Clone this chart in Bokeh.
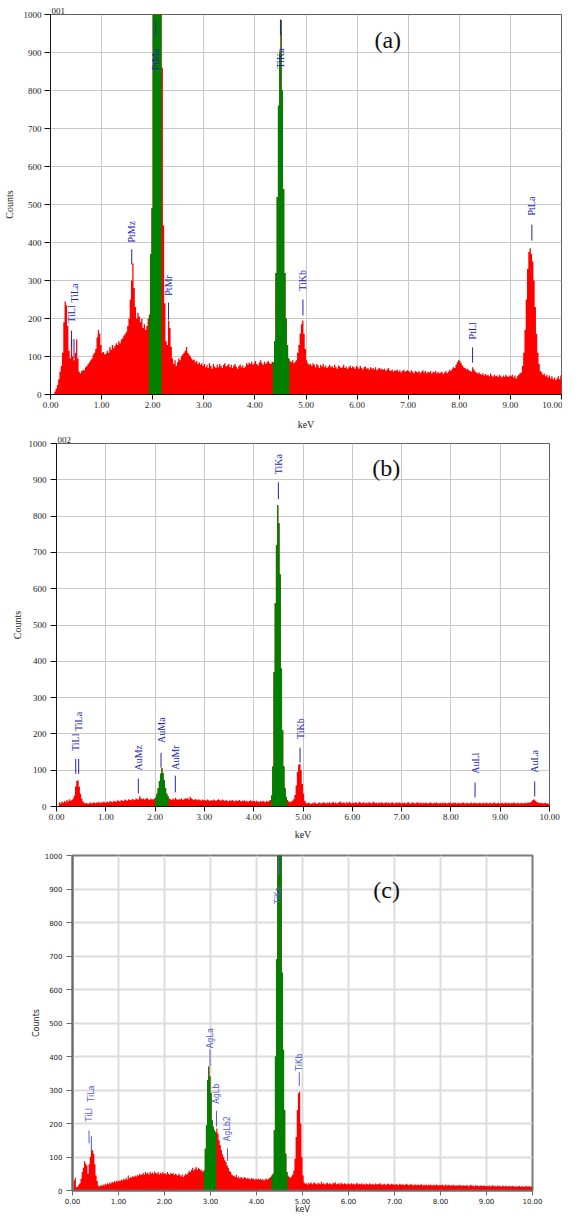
import numpy as np
from bokeh.plotting import figure
from bokeh.models import Label, FixedTicker, PrintfTickFormatter, Range1d
from bokeh.layouts import column
from bokeh.embed import file_html
from bokeh.resources import INLINE
from bokeh.core.properties import value

STEP = 0.025  # keV per channel

# ---------------- panel (a) ----------------
counts_a = [
    0, 0, 0, 8, 15, 25, 40, 60, 75, 110, 190, 245, 235, 180, 115, 95, 145, 100, 90, 110,
    145, 95, 60, 55, 62, 65, 63, 72, 75, 80, 85, 90, 95, 105, 110, 120, 150, 170, 160, 130,
    110, 112, 105, 108, 115, 110, 125, 118, 130, 122, 128, 135, 130, 140, 135, 145, 148, 155, 160, 165,
    180, 200, 250, 300, 345, 280, 230, 200, 215, 205, 190, 200, 175, 185, 170, 180, 200, 210, 370, 490,
    1200, 1200, 1200, 1200, 1200, 1200, 1200, 860, 445, 240, 140, 130, 195, 175, 125, 95, 80, 90, 75, 85,
    95, 90, 100, 105, 110, 115, 125, 110, 105, 100, 95, 90, 92, 85, 88, 80, 85, 78, 82, 75,
    80, 72, 78, 70, 82, 75, 68, 80, 74, 70, 78, 72, 80, 75, 70, 78, 82, 74, 76, 80,
    72, 78, 70, 76, 80, 73, 68, 75, 79, 72, 76, 70, 74, 82, 78, 84, 80, 86, 78, 82,
    88, 80, 76, 84, 90, 82, 78, 86, 80, 85, 88, 82, 80, 86, 85, 140, 320, 520, 760, 900,
    985, 800, 540, 320, 200, 130, 95, 88, 85, 90, 82, 86, 90, 110, 130, 160, 185, 195, 160, 120,
    90, 82, 78, 80, 75, 82, 78, 72, 80, 76, 70, 78, 74, 80, 72, 76, 70, 74, 78, 72,
    75, 70, 78, 72, 68, 76, 74, 70, 72, 78, 70, 74, 68, 72, 76, 70, 74, 72, 68, 75,
    72, 68, 75, 70, 66, 72, 74, 68, 70, 65, 72, 68, 70, 66, 72, 64, 68, 70, 66, 68,
    65, 68, 62, 66, 70, 64, 62, 66, 60, 64, 62, 66, 60, 64, 58, 62, 65, 60, 62, 64,
    62, 58, 64, 60, 56, 62, 60, 58, 62, 56, 60, 64, 58, 62, 56, 60, 58, 62, 55, 60,
    58, 62, 56, 60, 55, 58, 60, 54, 58, 62, 56, 60, 65, 62, 68, 72, 70, 78, 85, 90,
    88, 82, 76, 72, 70, 66, 68, 64, 62, 60, 72, 66, 60, 58, 55, 58, 54, 52, 56, 50,
    54, 50, 52, 48, 55, 50, 47, 52, 48, 50, 46, 52, 48, 45, 50, 47, 52, 48, 46, 50,
    48, 52, 45, 50, 42, 48, 52, 55, 58, 75, 110, 170, 250, 330, 375, 385, 370, 350, 300, 230,
    160, 110, 80, 62, 58, 52, 55, 48, 52, 45, 50, 42, 48, 40, 45, 38, 42, 48, 40, 50,
]
roi_a = [(1.925, 2.175), (4.35, 4.675)]
lines_a_name = ["TiLl", "TiLa", "PtMz", "PtMa", "PtMr", "TiKa", "TiKb", "PtLl", "PtLa"]
lines_a_kev = [0.41, 0.46, 1.59, 2.06, 2.31, 4.50, 4.94, 8.26, 9.42]
lines_a_lo = [125, 94, 342, 945, 197, 945, 208, 84, 405]
lines_a_hi = [168, 146, 382, 984, 242, 987, 250, 124, 447]
lines_a_text = [189, 242, 400, 853, 260, 858, 273, 145, 471]

# ---------------- panel (b) ----------------
counts_b = [
    0, 0, 12, 8, 14, 10, 15, 12, 18, 14, 20, 16, 18, 22, 30, 55, 70, 72, 55, 35,
    22, 14, 10, 8, 10, 7, 9, 11, 8, 10, 12, 9, 11, 10, 13, 9, 12, 11, 14, 10,
    12, 14, 11, 15, 13, 12, 16, 14, 13, 17, 15, 14, 18, 16, 15, 19, 17, 16, 20, 18,
    17, 21, 19, 18, 22, 20, 19, 28, 23, 20, 22, 19, 21, 24, 20, 18, 22, 19, 20, 22,
    25, 35, 50, 70, 90, 106, 92, 72, 50, 35, 28, 22, 20, 18, 22, 19, 24, 20, 18, 21,
    19, 22, 18, 20, 23, 21, 24, 19, 27, 22, 20, 18, 21, 19, 17, 20, 18, 16, 19, 17,
    18, 16, 19, 17, 15, 18, 16, 19, 17, 15, 18, 20, 17, 16, 19, 17, 15, 18, 16, 14,
    17, 15, 18, 16, 14, 17, 15, 16, 18, 14, 16, 15, 17, 14, 16, 13, 15, 17, 14, 16,
    15, 13, 16, 14, 12, 15, 13, 16, 14, 12, 15, 13, 16, 18, 30, 110, 370, 560, 720, 830,
    780, 640, 380, 210, 110, 50, 26, 18, 14, 12, 14, 16, 20, 32, 58, 95, 115, 117, 100, 62,
    35, 16, 10, 8, 11, 9, 7, 10, 8, 12, 9, 7, 10, 11, 8, 9, 12, 10, 8, 11,
    9, 12, 8, 10, 13, 9, 11, 8, 10, 12, 14, 9, 11, 10, 8, 12, 9, 13, 10, 8,
    11, 9, 12, 10, 8, 13, 11, 9, 10, 12, 8, 11, 9, 12, 10, 8, 11, 13, 9, 10,
    8, 11, 9, 12, 10, 8, 10, 12, 9, 11, 8, 10, 12, 9, 8, 11, 10, 9, 12, 8,
    10, 9, 11, 8, 10, 12, 9, 8, 11, 10, 9, 8, 12, 10, 9, 11, 8, 10, 9, 11,
    9, 8, 10, 11, 9, 8, 10, 9, 12, 8, 9, 10, 8, 11, 9, 10, 8, 9, 11, 10,
    8, 10, 9, 11, 8, 9, 10, 8, 9, 11, 10, 8, 9, 10, 8, 9, 11, 8, 10, 9,
    10, 8, 9, 11, 8, 9, 10, 8, 11, 9, 8, 10, 9, 8, 10, 11, 8, 9, 10, 8,
    9, 10, 8, 9, 11, 8, 10, 9, 8, 10, 9, 11, 8, 9, 10, 8, 9, 10, 8, 9,
    10, 9, 11, 10, 12, 14, 18, 20, 16, 13, 11, 10, 9, 10, 8, 9, 10, 8, 9, 7,
]
roi_b = [(2.0, 2.275), (4.35, 4.675)]
lines_b_name = ["TiLl", "TiLa", "AuMz", "AuMa", "AuMr", "TiKa", "TiKb", "AuLl", "AuLa"]
lines_b_kev = [0.39, 0.45, 1.66, 2.12, 2.41, 4.50, 4.94, 8.49, 9.70]
lines_b_lo = [90, 90, 36, 107, 39, 847, 121, 25, 28]
lines_b_hi = [131, 131, 77, 148, 85, 893, 162, 66, 69]
lines_b_text = [153, 208, 99, 175, 101, 915, 186, 90, 93]

# ---------------- panel (c) ----------------
counts_c = [
    0, 30, 38, 10, 12, 18, 22, 35, 55, 68, 87, 80, 75, 50, 78, 100, 122, 120, 110, 78,
    45, 28, 15, 12, 16, 14, 18, 15, 20, 17, 22, 19, 24, 21, 26, 23, 28, 25, 30, 27,
    30, 28, 33, 30, 35, 31, 37, 33, 45, 36, 40, 38, 43, 40, 45, 42, 47, 44, 50, 46,
    48, 52, 47, 55, 50, 53, 48, 56, 51, 54, 49, 57, 52, 50, 55, 48, 53, 50, 56, 49,
    52, 48, 55, 50, 47, 53, 49, 52, 46, 50, 48, 44, 50, 46, 42, 48, 40, 45, 50, 47,
    52, 58, 55, 62, 68, 60, 65, 70, 62, 68, 64, 60, 62, 55, 60, 125, 195, 330, 370, 340,
    290, 210, 190, 180, 175, 185, 170, 150, 135, 120, 108, 100, 90, 85, 75, 68, 58, 55, 48, 45,
    44, 40, 46, 38, 42, 36, 40, 38, 35, 40, 37, 34, 38, 35, 33, 37, 34, 36, 32, 35,
    33, 36, 32, 35, 31, 34, 30, 33, 36, 32, 35, 38, 40, 45, 50, 180, 400, 690, 1000, 1200,
    1200, 1050, 650, 420, 240, 110, 55, 45, 40, 38, 42, 48, 60, 95, 160, 240, 290, 295, 200, 100,
    45, 24, 20, 22, 18, 23, 20, 25, 19, 22, 24, 20, 18, 23, 21, 19, 26, 20, 22, 18,
    21, 24, 19, 22, 20, 18, 23, 21, 25, 19, 20, 22, 18, 24, 20, 19, 22, 20, 18, 21,
    20, 18, 22, 19, 21, 17, 20, 23, 18, 20, 19, 22, 18, 20, 17, 21, 19, 18, 22, 19,
    18, 20, 17, 21, 19, 18, 20, 22, 17, 19, 18, 20, 16, 19, 21, 18, 17, 20, 18, 19,
    17, 19, 18, 16, 20, 18, 17, 19, 16, 18, 20, 17, 16, 18, 19, 17, 15, 18, 17, 16,
    18, 16, 17, 19, 15, 17, 16, 18, 15, 17, 16, 18, 15, 16, 17, 15, 18, 16, 15, 17,
    15, 17, 16, 14, 18, 15, 16, 17, 14, 16, 15, 17, 14, 15, 16, 14, 17, 15, 14, 16,
    15, 14, 16, 15, 13, 15, 17, 14, 15, 13, 16, 14, 15, 13, 14, 16, 13, 15, 14, 13,
    14, 13, 15, 12, 14, 16, 13, 14, 12, 15, 13, 14, 12, 13, 15, 12, 14, 13, 12, 14,
    13, 12, 14, 12, 13, 11, 13, 12, 14, 11, 12, 13, 11, 12, 14, 11, 12, 13, 11, 12,
]
roi_c = [(2.85, 3.125), (4.325, 4.675)]
lines_c_name = ["TiLl", "TiLa", "AgLa", "AgLb", "AgLb2", "TiKa", "TiKb"]
lines_c_kev = [0.36, 0.41, 2.99, 3.13, 3.37, 4.48, 4.93]
lines_c_lo = [141, 118, 371, 191, 88, 941, 312]
lines_c_hi = [179, 162, 421, 238, 126, 1000, 353]
lines_c_text = [206, 265, 425, 259, 147, 856, 357]

x_ticks = [0, 1, 2, 3, 4, 5, 6, 7, 8, 9, 10]
y_ticks = [0, 100, 200, 300, 400, 500, 600, 700, 800, 900, 1000]

RED = "#ff0000"
GREEN = "#008000"


def step_xy(counts, i0, i1):
    xs, ys = [], []
    for i in range(i0, i1):
        xs += [i * STEP, (i + 1) * STEP]
        ys += [counts[i], counts[i]]
    return xs, ys


def panel(counts, rois, names, kev, lo, hi, txt, tag, letter, letter_xy, st):
    p = figure(width=562, height=st["h"], output_backend="svg", toolbar_location=None,
               x_range=Range1d(0, 10), y_range=Range1d(0, 1000),
               min_border_left=st["l"], min_border_right=st["r"],
               min_border_top=st["t"], min_border_bottom=st["b"])
    p.frame_align = False
    p.background_fill_color = "white"
    p.border_fill_color = "white"
    p.outline_line_color = st["outline"]
    p.outline_line_width = st["ow"]
    if tag:
        p.title.text = tag
        p.title.align = "left"
        p.title.text_font = st["font"]
        p.title.text_font_size = "9px"
        p.title.text_font_style = "normal"
        p.title.text_color = "#222222"
        p.title.standoff = 1
        p.title.offset = 1

    for g in (p.xgrid, p.ygrid):
        g.grid_line_color = st["grid"]
        g.grid_line_width = st["gw"]
    p.xaxis.ticker = FixedTicker(ticks=x_ticks)
    p.yaxis.ticker = FixedTicker(ticks=y_ticks)
    p.xaxis.formatter = PrintfTickFormatter(format="%.2f")
    p.xaxis.axis_label = "keV"
    p.yaxis.axis_label = "Counts"
    for ax in (p.xaxis[0], p.yaxis[0]):
        ax.axis_line_color = st["axis"]
        ax.axis_line_width = st["aw"]
        ax.major_tick_line_color = st["axis"]
        ax.major_tick_in = 0
        ax.minor_tick_line_color = None
        ax.major_label_text_font = st["font"]
        ax.major_label_text_font_size = st["tick_fs"]
        ax.major_label_text_color = "#222222"
        ax.axis_label_text_font = st["font"]
        ax.axis_label_text_font_size = st["lab_fs"]
        ax.axis_label_text_font_style = "normal"
        ax.axis_label_text_color = "#222222"
    p.yaxis.major_tick_out = 6
    p.xaxis.major_tick_out = 5
    p.yaxis.major_label_standoff = st["ystand"]
    p.xaxis.major_label_standoff = 2
    p.yaxis.axis_label_standoff = st["yls"]
    p.xaxis.axis_label_standoff = st["xls"]

    xs, ys = step_xy(counts, 0, len(counts))
    p.varea(x=xs, y1=[0] * len(xs), y2=ys, fill_color=RED)
    for a, b in rois:
        i0 = int(round(a / STEP))
        i1 = int(round(b / STEP))
        xs, ys = step_xy(counts, i0, i1)
        p.varea(x=xs, y1=[0] * len(xs), y2=ys, fill_color=GREEN)

    p.segment(x0=kev, y0=lo, x1=kev, y1=hi, line_color=st["blue"], line_width=1)
    p.text(x=kev, y=txt, text=names, angle=np.pi / 2, text_align="left",
           text_baseline="middle", text_color=st["blue"],
           text_font=value(st["mfont"]), text_font_size=st["m_fs"])

    p.add_layout(Label(x=letter_xy[0], y=letter_xy[1], text=letter,
                       text_align="center", text_baseline="middle",
                       text_font="Liberation Serif", text_font_size="24px",
                       text_color="#111111"))
    return p


serif = dict(font="Liberation Serif", mfont="Liberation Serif", tick_fs="9px", lab_fs="10px",
             m_fs="10px", outline="#606060", ow=1, grid="#c8c8c8", gw=1, axis="#111111", aw=1)
st_a = dict(serif, h=432, l=45, r=1, t=14, b=38, ystand=3, yls=6, xls=8, blue="#2323b0")
st_b = dict(serif, h=410, l=56, r=13, t=11, b=34, ystand=4, yls=3, xls=6, blue="#2323b0")
st_c = dict(font="DejaVu Sans", mfont="DejaVu Sans", tick_fs="7px", lab_fs="8px", m_fs="8px",
            outline="#7a7a7a", ow=2, grid="#dcdcdc", gw=2, axis="#6a6a6a", aw=2,
            h=374, l=72, r=30, t=13, b=21, ystand=4, yls=1, xls=-2, blue="#5a5ad2")

pa = panel(counts_a, roi_a, lines_a_name, lines_a_kev, lines_a_lo, lines_a_hi, lines_a_text,
           "001", "(a)", (6.6, 932), st_a)
pb = panel(counts_b, roi_b, lines_b_name, lines_b_kev, lines_b_lo, lines_b_hi, lines_b_text,
           "002", "(b)", (6.69, 932), st_b)
pc = panel(counts_c, roi_c, lines_c_name, lines_c_kev, lines_c_lo, lines_c_hi, lines_c_text,
           None, "(c)", (6.83, 897), st_c)

layout = column(pa, pb, pc, spacing=0)
open("out.html", "w").write(file_html(layout, INLINE))
